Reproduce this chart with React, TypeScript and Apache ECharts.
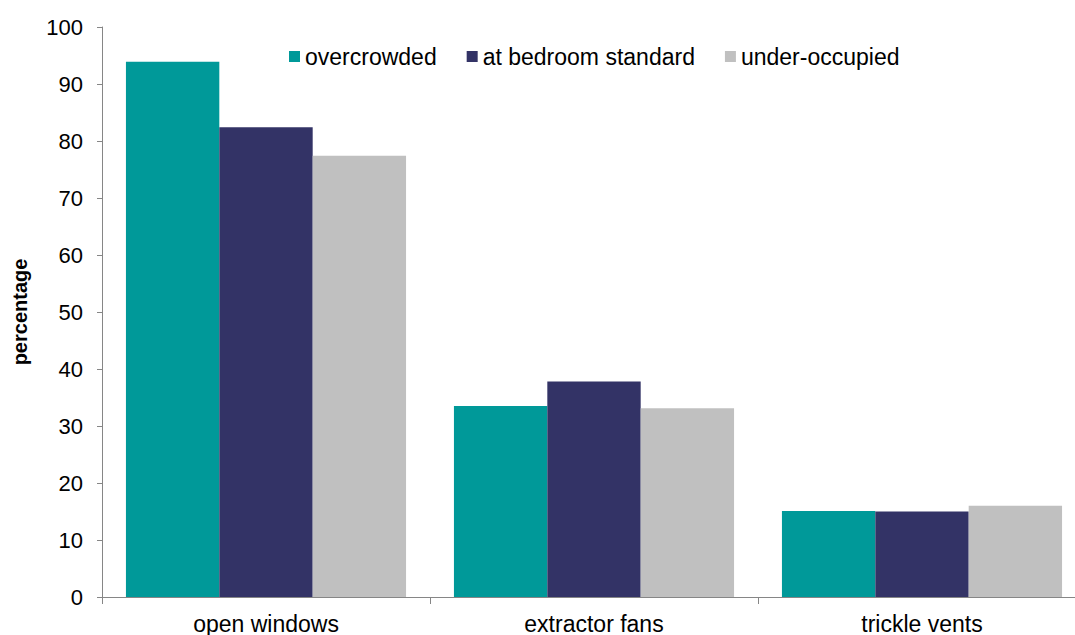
import React, { useEffect, useRef } from "react";
import * as echarts from "echarts";

const categories = ["open windows", "extractor fans", "trickle vents"];
const overcrowded = [93.9, 33.5, 15.1];
const atBedroomStandard = [82.4, 37.8, 15.0];
const underOccupied = [77.4, 33.1, 16.0];
const seriesNames = ["overcrowded", "at bedroom standard", "under-occupied"];
const colors = ["#009999", "#333366", "#C0C0C0"];

export default function App() {
  const ref = useRef<HTMLDivElement>(null);
  useEffect(() => {
    if (!ref.current) return;
    const chart = echarts.init(ref.current, null, { renderer: "svg" });
    const font = "'Liberation Sans', Arial, sans-serif";
    const data = [overcrowded, atBedroomStandard, underOccupied];
    chart.setOption({
      animation: false,
      textStyle: { fontFamily: font },
      legend: {
        left: 284,
        top: 40,
        itemWidth: 11,
        itemHeight: 11,
        itemGap: 30,
        icon: "rect",
        textStyle: { fontFamily: font, fontSize: 23, color: "#000" },
        data: seriesNames,
      },
      grid: {
        left: 102,
        top: 27,
        right: -11,
        height: 570,
        containLabel: false,
        outerBoundsMode: "none",
      },
      xAxis: {
        type: "category",
        data: categories,
        axisLine: { lineStyle: { color: "#868686", width: 1 } },
        axisTick: { show: true, length: 7, alignWithLabel: false, lineStyle: { color: "#868686" } },
        axisLabel: { color: "#000", fontSize: 23, fontFamily: font, margin: 15 },
      },
      yAxis: {
        type: "value",
        min: 0,
        max: 100,
        interval: 10,
        name: "percentage",
        nameLocation: "middle",
        nameGap: 72,
        nameTextStyle: { fontSize: 20, fontWeight: "bold", color: "#000", fontFamily: font },
        axisLine: { show: true, lineStyle: { color: "#868686", width: 1 } },
        axisTick: { show: true, length: 5, lineStyle: { color: "#868686" } },
        axisLabel: { color: "#000", fontSize: 22, fontFamily: font, margin: 19 },
        splitLine: { show: false },
      },
      series: seriesNames.map((name, i) => ({
        name,
        type: "bar",
        data: data[i],
        itemStyle: { color: colors[i] },
        barGap: "0%",
        barCategoryGap: "14.6%",
      })),
    });
    return () => chart.dispose();
  }, []);
  return (
    <div
      ref={ref}
      style={{ position: "fixed", left: 0, top: 0, width: 1075, height: 635, background: "#fff" }}
    />
  );
}
